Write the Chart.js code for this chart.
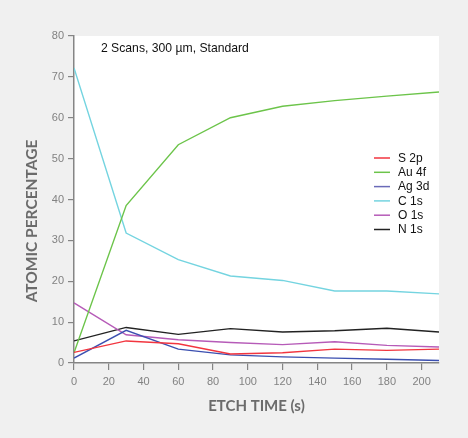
<!DOCTYPE html>
<html>
<head>
    <meta charset="UTF-8" />
    <title>Atomic percentage vs etch time</title>
    <script src="https://cdn.jsdelivr.net/npm/chart.js"></script>
    <style>
        html, body { margin: 0; padding: 0; background: #f0f0f0; }
        #wrap { width: 468px; height: 438px; }
    </style>
</head>
<body>
    <div id="wrap"><canvas id="grafico" width="468" height="438"></canvas></div>
    <script>
        // Datos
        const etchTime = [0, 30, 60, 90, 120, 150, 180, 210];
        const s2p  = [2.6, 5.4, 4.7, 2.2, 2.5, 3.4, 3.1, 3.4];
        const au4f = [2.5, 38.5, 53.4, 60.0, 62.8, 64.2, 65.3, 66.3];
        const ag3d = [1.2, 8.0, 3.4, 2.0, 1.5, 1.2, 0.9, 0.6];
        const c1s  = [72.2, 31.8, 25.3, 21.3, 20.2, 17.6, 17.6, 16.9];
        const o1s  = [14.7, 6.9, 5.7, 5.0, 4.5, 5.2, 4.3, 3.9];
        const n1s  = [5.4, 8.7, 7.0, 8.4, 7.6, 7.9, 8.5, 7.6];
        const seriesNames = ['S 2p', 'Au 4f', 'Ag 3d', 'C 1s', 'O 1s', 'N 1s'];
        const seriesColors = ['#f2353f', '#6cc44a', '#3b4fb0', '#74d4e0', '#b65bb8', '#222222'];
        const legendColors = ['#f2353f', '#6cc44a', '#6a6ab8', '#74d4e0', '#b65bb8', '#222222'];
        const yTicks = [0, 10, 20, 30, 40, 50, 60, 70, 80];
        const xTicks = [0, 20, 40, 60, 80, 100, 120, 140, 160, 180, 200];
        const noteText = '2 Scans, 300 µm, Standard';
        const yTitle = 'ATOMIC PERCENTAGE';

        const seriesValues = [s2p, au4f, ag3d, c1s, o1s, n1s];
        const gris = '#858585';

        // fondo gris y area del grafico en blanco
        const fondo = {
            id: 'fondo',
            beforeDraw(chart) {
                const { ctx, chartArea: a } = chart;
                ctx.save();
                ctx.fillStyle = '#f0f0f0';
                ctx.fillRect(0, 0, chart.width, chart.height);
                ctx.fillStyle = '#ffffff';
                ctx.fillRect(a.left, a.top, a.right - a.left, a.bottom - a.top);
                ctx.restore();
            }
        };

        // leyenda, nota y titulo vertical
        const leyenda = {
            id: 'leyenda',
            afterDatasetsDraw(chart) {
                const { ctx, scales } = chart;
                ctx.save();
                ctx.font = '12.2px "Liberation Sans", Arial, sans-serif';
                ctx.fillStyle = '#111';
                ctx.textBaseline = 'middle';
                ctx.fillText(noteText, scales.x.getPixelForValue(15.5), scales.y.getPixelForValue(76.8));
                ctx.font = '12px "Liberation Sans", Arial, sans-serif';
                const x0 = 374, y0 = 158, paso = 14.3;
                chart.data.datasets.forEach((ds, i) => {
                    const y = y0 + i * paso;
                    ctx.strokeStyle = legendColors[i];
                    ctx.lineWidth = 1.5;
                    ctx.beginPath();
                    ctx.moveTo(x0, y);
                    ctx.lineTo(x0 + 16, y);
                    ctx.stroke();
                    ctx.fillStyle = '#111';
                    ctx.fillText(ds.label, x0 + 24, y + 0.5);
                });

                // titulo del eje y (algo mas abajo que el centro del eje)
                ctx.translate(32, 221);
                ctx.rotate(-Math.PI / 2);
                ctx.textAlign = 'center';
                ctx.fillStyle = '#6b6b6b';
                ctx.font = 'bold 15.5px Lato, "Open Sans", sans-serif';
                ctx.fillText(yTitle, 0, 0);
                ctx.restore();
            }
        };

        const datasets = seriesNames.map((name, i) => ({
            label: name,
            data: etchTime.map((t, k) => ({ x: t, y: seriesValues[i][k] })),
            borderColor: seriesColors[i],
            backgroundColor: seriesColors[i],
            borderWidth: 1.4,
            pointRadius: 0,
            tension: 0,
            fill: false
        }));

        new Chart(document.getElementById('grafico'), {
            type: 'line',
            data: { datasets },
            options: {
                responsive: false,
                animation: false,
                events: [],
                layout: { padding: { top: 36, right: 29, left: 0, bottom: 0 } },
                plugins: { legend: { display: false }, tooltip: { enabled: false } },
                scales: {
                    x: {
                        type: 'linear',
                        min: 0,
                        max: 210,
                        afterFit(scale) { scale.height = 75; },
                        afterBuildTicks(scale) { scale.ticks = xTicks.map(v => ({ value: v })); },
                        border: { display: true, color: gris, width: 1.5 },
                        grid: { display: true, drawOnChartArea: false, drawTicks: true, tickLength: 7, color: gris, lineWidth: 1.2 },
                        ticks: {
                            color: '#828282',
                            padding: 5,
                            maxRotation: 0,
                            font: { family: '"Liberation Sans", Arial, sans-serif', size: 11 }
                        },
                        title: {
                            display: true,
                            text: 'ETCH TIME (s)',
                            color: '#6b6b6b',
                            padding: { top: 0, bottom: 23 },
                            font: { family: 'Lato, "Open Sans", sans-serif', size: 15, weight: 'bold' }
                        }
                    },
                    y: {
                        type: 'linear',
                        min: 0,
                        max: 80,
                        afterFit(scale) { scale.width = 74; },
                        afterBuildTicks(scale) { scale.ticks = yTicks.map(v => ({ value: v })); },
                        border: { display: true, color: gris, width: 1.5 },
                        grid: { display: true, drawOnChartArea: false, drawTicks: true, tickLength: 6, color: gris, lineWidth: 1.2 },
                        ticks: {
                            color: '#828282',
                            padding: 4,
                            font: { family: '"Liberation Sans", Arial, sans-serif', size: 11 }
                        },
                        title: { display: false }
                    }
                }
            },
            plugins: [fondo, leyenda]
        });
    </script>
</body>
</html>
